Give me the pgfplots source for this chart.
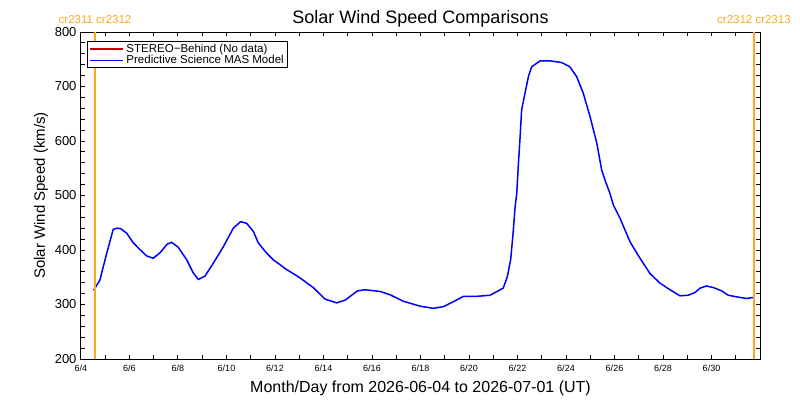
\documentclass[border=0pt]{standalone}
\usepackage{fontspec}
\setmainfont{Liberation Sans}
\usepackage{pgfplots}
\pgfplotsset{compat=1.18}
\definecolor{cror}{RGB}{255,165,40}
\definecolor{sred}{RGB}{200,0,0}
\begin{document}
\begin{tikzpicture}[x=1pt,y=1pt]
\begin{axis}[
  at={(0pt,0pt)}, anchor=south west,
  scale only axis, width=679pt, height=327pt,
  xmin=0, xmax=28, ymin=200, ymax=800,
  axis line style={line width=1pt},
  every tick/.style={black, line width=1pt},
  major tick length=4pt, minor tick length=4pt,
  tick align=inside,
  xtick={0,2,...,26},
  xticklabels={6/4,6/6,6/8,6/10,6/12,6/14,6/16,6/18,6/20,6/22,6/24,6/26,6/28,6/30},
  minor xtick={1,3,...,27},
  ytick={200,300,...,800},
  minor y tick num=4,
  /pgf/number format/assume math mode=true,
  x tick label style={font=\fontsize{9}{10}\selectfont, yshift=-2pt},
  y tick label style={font=\fontsize{13}{14}\selectfont, xshift=-1pt},
  legend style={at={(6pt,318pt)}, anchor=north west, draw=black, line width=1pt,
     font=\fontsize{11.5}{12}\selectfont, inner xsep=2pt, inner ysep=0.5pt,
     row sep=-2.5pt, legend cell align=left},
  legend image code/.code={\draw[#1] (9pt,0pt) -- (42pt,0pt);},
  clip=false,
]
\addlegendimage{sred, line width=2pt}
\addlegendentry{STEREO−Behind (No data)}
\addplot[blue, line width=1.5pt] coordinates {
(0.52,326) (0.78,345) (1.06,394) (1.33,438) (1.50,440) (1.64,439) (1.88,431)
(2.16,413) (2.45,400) (2.71,389) (2.98,385) (3.26,395) (3.56,411) (3.74,414)
(4.01,405) (4.36,382) (4.63,358) (4.84,346) (5.11,352) (5.46,376) (5.87,406)
(6.28,440) (6.58,452) (6.83,449) (7.11,434) (7.31,413) (7.66,394) (7.93,382)
(8.18,374) (8.41,366) (8.96,351) (9.58,331) (10.06,310) (10.54,303) (10.89,308)
(11.40,325) (11.71,327) (12.33,324) (12.74,318) (13.29,306) (13.98,297) (14.53,293)
(14.94,296) (15.35,305) (15.77,315) (16.32,315) (16.87,317) (17.41,330) (17.58,351)
(17.72,383) (17.83,437) (17.90,479) (17.97,504) (18.03,553) (18.10,602) (18.17,657)
(18.31,688) (18.45,718) (18.58,736) (18.93,747) (19.34,747) (19.82,744) (20.16,736)
(20.44,718) (20.71,688) (20.99,645) (21.27,596) (21.47,547) (21.61,528) (21.81,504)
(21.95,483) (22.23,458) (22.64,415) (23.05,385) (23.46,357) (23.88,339) (24.29,327)
(24.70,316) (25.04,317) (25.32,322) (25.53,330) (25.80,334) (26.08,331) (26.42,325)
(26.69,317) (27.04,314) (27.45,311) (27.73,313)
};
\addlegendentry{Predictive Science MAS Model}
\addplot[cror, line width=2pt, forget plot] coordinates {(0.58,200) (0.58,800)};
\addplot[cror, line width=2pt, forget plot] coordinates {(27.75,200) (27.75,800)};
\node[anchor=base, text=cror, font=\fontsize{11.5}{12}\selectfont, inner sep=0pt] at (axis cs:0.58,800) [yshift=9pt] {cr2311 cr2312};
\node[anchor=base, text=cror, font=\fontsize{11.5}{12}\selectfont, inner sep=0pt] at (axis cs:27.75,800) [yshift=9pt] {cr2312 cr2313};
\node[anchor=base, font=\fontsize{18}{20}\selectfont, inner sep=0pt] at (rel axis cs:0.5,1) [yshift=9pt] {Solar Wind Speed Comparisons};
\node[anchor=base, font=\fontsize{16}{18}\selectfont, inner sep=0pt] at (rel axis cs:0.5,0) [yshift=-33pt] {Month/Day from 2026-06-04 to 2026-07-01 (UT)};
\path (rel axis cs:0,0.5) ++(-36pt,0pt) node[anchor=base, rotate=90, font=\fontsize{15}{17}\selectfont, inner sep=0pt] {Solar Wind Speed (km/s)};
\end{axis}
\pgfresetboundingbox
\useasboundingbox (-81pt,-41pt) rectangle (719pt,359pt);
\end{tikzpicture}
\end{document}
